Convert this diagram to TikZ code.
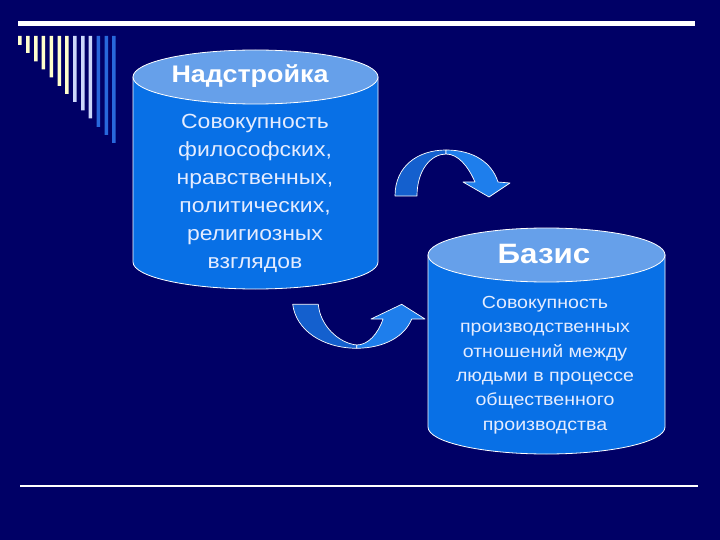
\documentclass[tikz,border=0pt]{standalone}
\usepackage{fontspec}
\newfontfamily\slidefont[FakeStretch=1.12]{Liberation Sans}
\usetikzlibrary{positioning}

\definecolor{slidebg}{RGB}{0,0,102}
\definecolor{cylside}{RGB}{8,112,230}
\definecolor{cyltop}{RGB}{102,160,234}
\definecolor{barpale}{RGB}{255,255,204}
\definecolor{barlilac}{RGB}{204,216,250}
\definecolor{barblue}{RGB}{40,104,220}
\definecolor{arrfront}{RGB}{30,126,236}
\definecolor{arrback}{RGB}{20,96,206}
\definecolor{bodytext}{RGB}{228,236,255}

\begin{document}
\begin{tikzpicture}[x=1pt,y=-1pt,
  side/.style={fill=cylside, draw=white, line width=0.8pt},
  lid/.style={fill=cyltop, draw=white, line width=0.8pt},
  front/.style={fill=arrfront, draw=white, line width=0.7pt, line join=round},
  back/.style={fill=arrback, draw=white, line width=0.7pt, line join=round},
  head/.style={text=white, font=\slidefont\bfseries, inner sep=0pt},
  body/.style={text=bodytext, align=center, inner sep=0pt}]
  \useasboundingbox (0,0) rectangle (720,540);
  \fill[slidebg] (0,0) rectangle (720,540);

  % top rule and bars
  \fill[white] (18,21.5) rectangle (695,26.5);
  \fill[barpale] (18,36) rectangle (21.6,45)
                 (26,36) rectangle (29.6,53)
                 (34,36) rectangle (37.6,61.5)
                 (41.5,36) rectangle (45.1,69.5)
                 (49.5,36) rectangle (53.1,77.5)
                 (57.5,36) rectangle (61.1,86)
                 (65,36) rectangle (68.6,94);
  \fill[barlilac] (73,36) rectangle (76.6,102)
                  (81,36) rectangle (84.6,110.5)
                  (88.5,36) rectangle (92.1,118.5);
  \fill[barblue] (96.5,36) rectangle (100.1,127)
                 (104.5,36) rectangle (108.1,135)
                 (112,36) rectangle (115.6,143);

  % bottom rule
  \draw[white, line width=1.3pt] (20,486) -- (698,486);

  % upper cylinder
  \draw[side] (133,77) -- (133,262) arc[start angle=180, end angle=0, x radius=122.5, y radius=27] -- (378,77) -- cycle;
  \draw[lid] (255.5,77) ellipse [x radius=122.5, y radius=27];
  \node[head, font=\slidefont\bfseries\fontsize{24}{27}\selectfont] (nadstr) at (250,76) {Надстройка};
  \node[body, font=\slidefont\fontsize{20.5}{28}\selectfont] (nadstrtext) at (255,193)
    {Совокупность\\философских,\\нравственных,\\политических,\\религиозных\\взглядов};

  % lower cylinder
  \draw[side] (428,255) -- (428,427) arc[start angle=180, end angle=0, x radius=118.5, y radius=27] -- (665,255) -- cycle;
  \draw[lid] (546.5,255) ellipse [x radius=118.5, y radius=27];
  \node[head, font=\slidefont\bfseries\fontsize{28}{32}\selectfont] (bazis) at (544,254) {Базис};
  \node[body, font=\slidefont\fontsize{17.5}{24.4}\selectfont] (bazistext) at (545,365)
    {Совокупность\\производственных\\отношений между\\людьми в процессе\\общественного\\производства};

  % curved arrow, top
  \draw[back] (395,196) .. controls (395,166) and (418,150) .. (446,150)
    -- (446,154) .. controls (431,154) and (417,170) .. (417,196) -- cycle;
  \draw[front] (446,150) .. controls (474,150) and (492,163) .. (498,182)
    -- (510,183) -- (489,197) -- (463,182) -- (475,182)
    .. controls (468,166) and (458,154) .. (446,154) -- cycle;

  % curved arrow, bottom
  \draw[back] (292.7,304.3) .. controls (296,330) and (322,348) .. (356.7,348.3)
    -- (356.7,345) .. controls (338,343) and (320,325) .. (318.3,304.3) -- cycle;
  \draw[front] (356.7,348.3) .. controls (385,348) and (405,336) .. (411.7,319)
    -- (425,319) -- (401.7,304.3) -- (371,319) -- (383,319)
    .. controls (378,334) and (368,345) .. (356.7,345) -- cycle;
\end{tikzpicture}
\end{document}
